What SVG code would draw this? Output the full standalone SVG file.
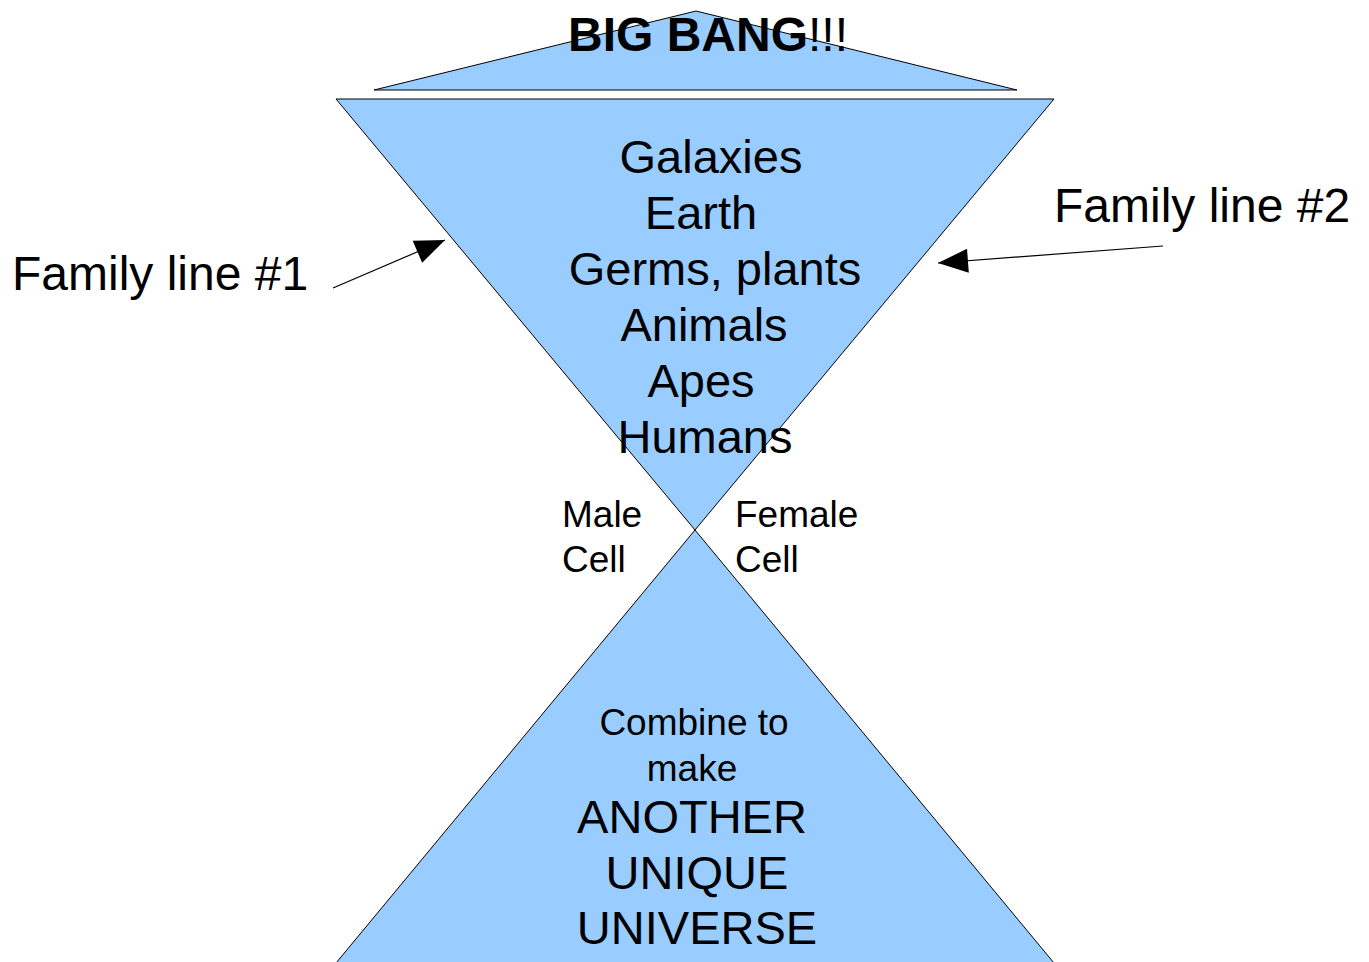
<svg xmlns="http://www.w3.org/2000/svg" width="1369" height="962" viewBox="0 0 1369 962">
<style>
.shape{fill:#99ccff;stroke:#000;stroke-width:1}
text{font-family:"Liberation Sans",Arial,sans-serif;fill:#000}
.big{font-size:47px;text-anchor:middle}
.mid{font-size:37px}
.conn{stroke:#000;stroke-width:1.2;fill:none}
</style>
<defs>
<marker id="ah2" viewBox="0 0 30 24" refX="30" refY="12" markerWidth="32" markerHeight="24" markerUnits="userSpaceOnUse" orient="auto">
<path d="M0,0 L30,12 L0,24 Z" fill="#000"/>
</marker>
</defs>
<rect width="1369" height="962" fill="#fff"/>
<g id="bigbang">
<polygon class="shape" points="374,90 696,11 1017,90"/>
<text x="568" y="51" style="font-size:48px;font-weight:bold">BIG BANG<tspan style="font-weight:normal">!!!</tspan></text>
</g>
<g id="upper">
<polygon class="shape" points="336,99 1054,99 695,530"/>
<text class="big" x="711" y="173">Galaxies</text>
<text class="big" x="701" y="229">Earth</text>
<text class="big" x="715" y="285">Germs, plants</text>
<text class="big" x="704" y="341">Animals</text>
<text class="big" x="701" y="397">Apes</text>
<text class="big" x="705" y="453">Humans</text>
</g>
<g id="lower">
<path d="M695,530 L336,963 L1054,963 Z" fill="#99ccff"/>
<path d="M336,963 L695,530 L1054,963" class="conn" style="stroke-width:1"/>
<text class="mid" x="694" y="735" text-anchor="middle">Combine to</text>
<text class="mid" x="692" y="781" text-anchor="middle">make</text>
<text class="big" x="692" y="833">ANOTHER</text>
<text class="big" x="697" y="889">UNIQUE</text>
<text class="big" x="697" y="944">UNIVERSE</text>
</g>
<g id="male">
<text class="mid" x="562" y="527">Male</text>
<text class="mid" x="562" y="572">Cell</text>
</g>
<g id="female">
<text class="mid" x="735" y="527">Female</text>
<text class="mid" x="735" y="572">Cell</text>
</g>
<g id="family1"><text x="12" y="290" style="font-size:48px">Family line #1</text></g>
<g id="family2"><text x="1054" y="222" style="font-size:48px">Family line #2</text></g>
<g id="connectors">
<line class="conn" x1="333" y1="288" x2="445" y2="240" marker-end="url(#ah2)"/>
<line class="conn" x1="1163" y1="246" x2="938" y2="263" marker-end="url(#ah2)"/>
</g>
</svg>
